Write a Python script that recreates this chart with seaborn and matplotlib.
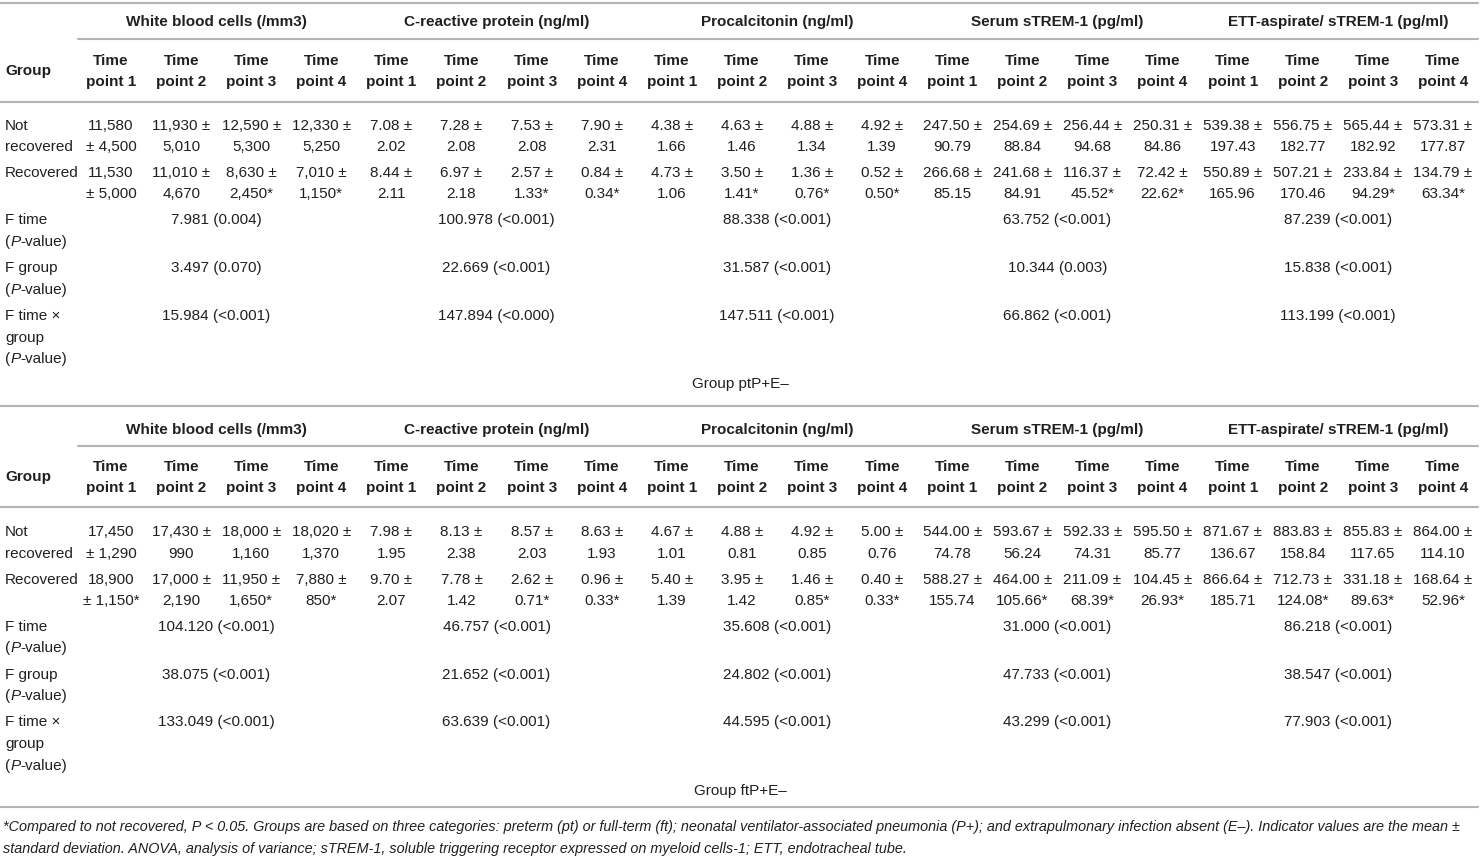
"""Biomarker table for neonatal VAP groups, drawn as text on a blank seaborn canvas."""
import matplotlib
matplotlib.use("Agg")
import matplotlib.pyplot as plt
import seaborn as sns

# --- data -------------------------------------------------------------------
markers = [
    "White blood cells (/mm3)",
    "C-reactive protein (ng/ml)",
    "Procalcitonin (ng/ml)",
    "Serum sTREM-1 (pg/ml)",
    "ETT-aspirate/ sTREM-1 (pg/ml)",
]
time_points = ["point 1", "point 2", "point 3", "point 4"]
row_labels = {
    "not": ["Not", "recovered"],
    "rec": ["Recovered"],
    "ftime": ["F time", "P-VALUE"],
    "fgroup": ["F group", "P-VALUE"],
    "fint": ["F time \u00d7", "group", "P-VALUE"],
}

# group ptP+E-
pt_not_mean = ["11,580", "11,930", "12,590", "12,330", "7.08", "7.28", "7.53", "7.90",
               "4.38", "4.63", "4.88", "4.92", "247.50", "254.69", "256.44", "250.31",
               "539.38", "556.75", "565.44", "573.31"]
pt_not_sd = ["4,500", "5,010", "5,300", "5,250", "2.02", "2.08", "2.08", "2.31",
             "1.66", "1.46", "1.34", "1.39", "90.79", "88.84", "94.68", "84.86",
             "197.43", "182.77", "182.92", "177.87"]
pt_rec_mean = ["11,530", "11,010", "8,630", "7,010", "8.44", "6.97", "2.57", "0.84",
               "4.73", "3.50", "1.36", "0.52", "266.68", "241.68", "116.37", "72.42",
               "550.89", "507.21", "233.84", "134.79"]
pt_rec_sd = ["5,000", "4,670", "2,450*", "1,150*", "2.11", "2.18", "1.33*", "0.34*",
             "1.06", "1.41*", "0.76*", "0.50*", "85.15", "84.91", "45.52*", "22.62*",
             "165.96", "170.46", "94.29*", "63.34*"]
pt_f_time = ["7.981 (0.004)", "100.978 (<0.001)", "88.338 (<0.001)", "63.752 (<0.001)", "87.239 (<0.001)"]
pt_f_group = ["3.497 (0.070)", "22.669 (<0.001)", "31.587 (<0.001)", "10.344 (0.003)", "15.838 (<0.001)"]
pt_f_int = ["15.984 (<0.001)", "147.894 (<0.000)", "147.511 (<0.001)", "66.862 (<0.001)", "113.199 (<0.001)"]

# group ftP+E-
ft_not_mean = ["17,450", "17,430", "18,000", "18,020", "7.98", "8.13", "8.57", "8.63",
               "4.67", "4.88", "4.92", "5.00", "544.00", "593.67", "592.33", "595.50",
               "871.67", "883.83", "855.83", "864.00"]
ft_not_sd = ["1,290", "990", "1,160", "1,370", "1.95", "2.38", "2.03", "1.93",
             "1.01", "0.81", "0.85", "0.76", "74.78", "56.24", "74.31", "85.77",
             "136.67", "158.84", "117.65", "114.10"]
ft_rec_mean = ["18,900", "17,000", "11,950", "7,880", "9.70", "7.78", "2.62", "0.96",
               "5.40", "3.95", "1.46", "0.40", "588.27", "464.00", "211.09", "104.45",
               "866.64", "712.73", "331.18", "168.64"]
ft_rec_sd = ["1,150*", "2,190", "1,650*", "850*", "2.07", "1.42", "0.71*", "0.33*",
             "1.39", "1.42", "0.85*", "0.33*", "155.74", "105.66*", "68.39*", "26.93*",
             "185.71", "124.08*", "89.63*", "52.96*"]
ft_f_time = ["104.120 (<0.001)", "46.757 (<0.001)", "35.608 (<0.001)", "31.000 (<0.001)", "86.218 (<0.001)"]
ft_f_group = ["38.075 (<0.001)", "21.652 (<0.001)", "24.802 (<0.001)", "47.733 (<0.001)", "38.547 (<0.001)"]
ft_f_int = ["133.049 (<0.001)", "63.639 (<0.001)", "44.595 (<0.001)", "43.299 (<0.001)", "77.903 (<0.001)"]

footnote = [
    "*Compared to not recovered, P < 0.05. Groups are based on three categories: preterm (pt) or "
    "full-term (ft); neonatal ventilator-associated pneumonia (P+); and extrapulmonary infection "
    "absent (E\u2013). Indicator values are the mean \u00b1",
    "standard deviation. ANOVA, analysis of variance; sTREM-1, soluble triggering receptor "
    "expressed on myeloid cells-1; ETT, endotracheal tube.",
]

# --- layout -----------------------------------------------------------------
W, H = 1481, 862
COL0, COLW = 76, 70.1
TXT = "#231f20"
RULE = "#b4b4b4"
FS = 11

layout_pt = dict(top=4, header=22, sub=40, time=61, point=82, rule=103,
                 nott=[126, 147], rec=[173, 194], ftime=[220, 242],
                 fgroup=[268, 290], fint=[316, 338, 359], label=384)
layout_ft = dict(top=407, header=430, sub=447, time=467, point=488, rule=508,
                 nott=[532, 554], rec=[580, 601], ftime=[627, 648],
                 fgroup=[675, 696], fint=[722, 744, 766], label=791)

sns.set_theme(style="white")
plt.rcParams["font.family"] = ["Liberation Sans", "DejaVu Sans"]


def col_x(i):
    return COL0 + COLW * (i + 0.5)


def pvalue_label(ax, x, y):
    # "(P-value)" with an italic P, laid out piece by piece
    renderer = ax.figure.canvas.get_renderer()
    for s, style in [("(", "normal"), ("P", "italic"), ("-value)", "normal")]:
        t = ax.text(x, y, s, ha="left", va="center", fontsize=FS, color=TXT,
                    fontstyle=style)
        bb = t.get_window_extent(renderer)
        x += bb.width


def cell(ax, x, ys, lines, ha="center", **kw):
    for y, s in zip(ys, lines):
        if s == "P-VALUE":
            pvalue_label(ax, x, y)
        else:
            ax.text(x, y, s, ha=ha, va="center", fontsize=FS, color=TXT, **kw)


def mean_sd_lines(i, mean, sd):
    # first column wraps before the sign, the rest after it
    if i == 0:
        return [mean, "\u00b1 " + sd]
    return [mean + " \u00b1", sd]


def draw_block(ax, ly, not_mean, not_sd, rec_mean, rec_sd, f_time, f_group, f_int, label):
    ax.plot([0, 1478], [ly["top"]] * 2, color=RULE, lw=1.5)
    ax.plot([78, 1478], [ly["sub"]] * 2, color=RULE, lw=1.5)
    ax.plot([0, 1478], [ly["rule"]] * 2, color=RULE, lw=1.5)

    for g, name in enumerate(markers):
        xc = (col_x(4 * g) + col_x(4 * g + 3)) / 2
        ax.text(xc, ly["header"], name, ha="center", va="center", fontsize=FS,
                color=TXT, fontweight="bold")
        for j, tp in enumerate(time_points):
            cell(ax, col_x(4 * g + j), [ly["time"], ly["point"]], ["Time", tp],
                 fontweight="bold")
        cell(ax, xc, ly["ftime"][:1], [f_time[g]])
        cell(ax, xc, ly["fgroup"][:1], [f_group[g]])
        cell(ax, xc, ly["fint"][:1], [f_int[g]])

    ax.text(5, (ly["time"] + ly["point"]) / 2, "Group", ha="left", va="center",
            fontsize=FS, color=TXT, fontweight="bold")
    cell(ax, 5, ly["nott"], row_labels["not"], ha="left")
    cell(ax, 5, ly["rec"], row_labels["rec"], ha="left")
    cell(ax, 5, ly["ftime"], row_labels["ftime"], ha="left")
    cell(ax, 5, ly["fgroup"], row_labels["fgroup"], ha="left")
    cell(ax, 5, ly["fint"], row_labels["fint"], ha="left")

    for i in range(len(not_mean)):
        cell(ax, col_x(i), ly["nott"], mean_sd_lines(i, not_mean[i], not_sd[i]))
        cell(ax, col_x(i), ly["rec"], mean_sd_lines(i, rec_mean[i], rec_sd[i]))

    ax.text(740, ly["label"], label, ha="center", va="center", fontsize=FS, color=TXT)


fig = plt.figure(figsize=(W / 100, H / 100), dpi=100)
ax = fig.add_axes([0, 0, 1, 1])
ax.set_xlim(0, W)
ax.set_ylim(H, 0)
ax.axis("off")

draw_block(ax, layout_pt, pt_not_mean, pt_not_sd, pt_rec_mean, pt_rec_sd,
           pt_f_time, pt_f_group, pt_f_int, "Group ptP+E\u2013")
draw_block(ax, layout_ft, ft_not_mean, ft_not_sd, ft_rec_mean, ft_rec_sd,
           ft_f_time, ft_f_group, ft_f_int, "Group ftP+E\u2013")

ax.plot([0, 1478], [808, 808], color=RULE, lw=1.5)
for y, s in zip([827, 849], footnote):
    ax.text(3, y, s, ha="left", va="center", fontsize=10.4, color=TXT,
            fontstyle="italic")

fig.savefig("out.png", dpi=100)
